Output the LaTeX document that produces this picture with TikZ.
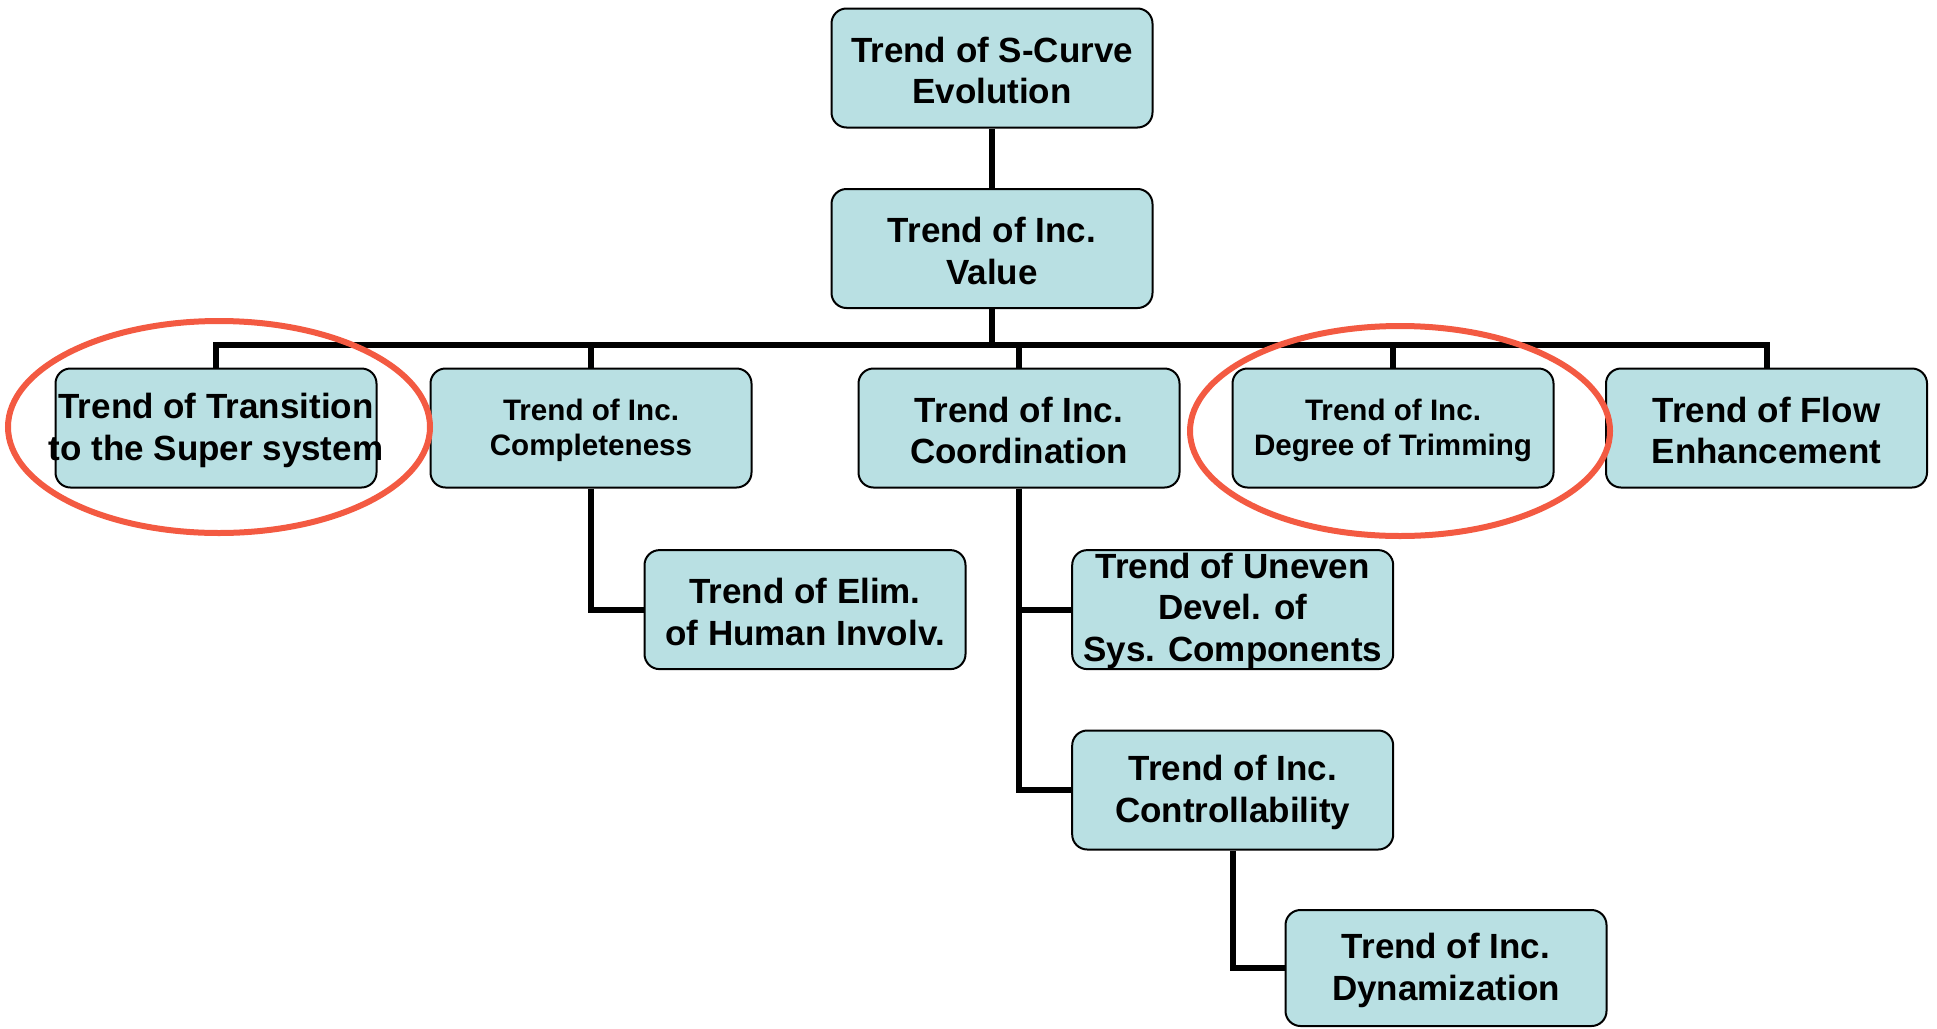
\documentclass[tikz,border=0pt]{standalone}
\usepackage{fontspec}
\setmainfont{Liberation Sans}
\definecolor{boxfill}{RGB}{185,224,227}
\definecolor{ring}{RGB}{243,90,66}
\begin{document}
\begin{tikzpicture}[x=1pt,y=-1pt,
  box/.style={draw=black, line width=2pt, fill=boxfill, rounded corners=15pt,
    minimum width=321pt, minimum height=119pt, inner sep=0pt},
  txt/.style={font=\bfseries\fontsize{35}{41.5}\selectfont, align=center, inner sep=0pt},
  smalltxt/.style={font=\bfseries\fontsize{29.6}{35}\selectfont, align=center, inner sep=0pt},
  conn/.style={draw=black, line width=6pt, line join=miter},
  redring/.style={draw=ring, line width=6pt}]
\useasboundingbox (0,0) rectangle (1937,1028);

% boxes
\node[box] (sc) at (992,68) {};
\node[box] (val) at (992,248.5) {};
\node[box] (tr) at (216,428) {};
\node[box] (comp) at (591,428) {};
\node[box] (coord) at (1019,428) {};
\node[box] (trim) at (1393,428) {};
\node[box] (flow) at (1766.5,428) {};
\node[box] (elim) at (805,609.6) {};
\node[box] (uneven) at (1232.7,609.6) {};
\node[box] (ctrl) at (1232.7,790) {};
\node[box, minimum height=116pt] (dyn) at (1446,968) {};

\coordinate (bus) at (0,344.5);

% connectors
\draw[conn] (sc.south) -- (val.north);
\draw[conn] (val.south) -- (val.south |- bus);
\draw[conn] (tr.north) -- (tr.north |- bus) -| (flow.north);
\draw[conn] (comp.north) -- (comp.north |- bus);
\draw[conn] (coord.north) -- (coord.north |- bus);
\draw[conn] (trim.north) -- (trim.north |- bus);
\draw[conn] (comp.south) |- (elim.west);
\draw[conn] (coord.south) |- (uneven.west);
\draw[conn] (coord.south) |- (ctrl.west);
\draw[conn] (ctrl.south) |- (dyn.west);

% texts
\node[txt] (sc-t) at ([yshift=-2.5pt]sc) {Trend of S-Curve\\Evolution};
\node[txt] (val-t) at ([yshift=-2.5pt]val) {Trend of Inc.\\Value};
\node[txt] (tr-t) at ([yshift=-2.5pt]tr) {\makebox[300pt]{Trend of Transition}\\\makebox[300pt]{to the Super system}};
\node[smalltxt] (comp-t) at ([yshift=-2.5pt]comp) {Trend of Inc.\\Completeness};
\node[txt] (coord-t) at ([yshift=-2.5pt]coord) {Trend of Inc.\\Coordination};
\node[smalltxt] (trim-t) at ([yshift=-2.5pt]trim) {Trend of Inc.\\Degree of Trimming};
\node[txt] (flow-t) at ([yshift=-2.5pt]flow) {Trend of Flow\\Enhancement};
\node[txt] (elim-t) at ([yshift=-2.5pt]elim) {Trend of Elim.\\of Human Involv.};
\node[txt] (uneven-t) at ([yshift=-1pt]uneven) {Trend of Uneven\\Devel. of\\Sys. Components};
\node[txt] (ctrl-t) at ([yshift=-2.5pt]ctrl) {Trend of Inc.\\Controllability};
\node[txt] (dyn-t) at ([yshift=-2.5pt]dyn) {Trend of Inc.\\Dynamization};

% red rings
\draw[redring] (219,427) ellipse [x radius=211, y radius=106];
\draw[redring] (1400,431) ellipse [x radius=210, y radius=105];
\end{tikzpicture}
\end{document}
